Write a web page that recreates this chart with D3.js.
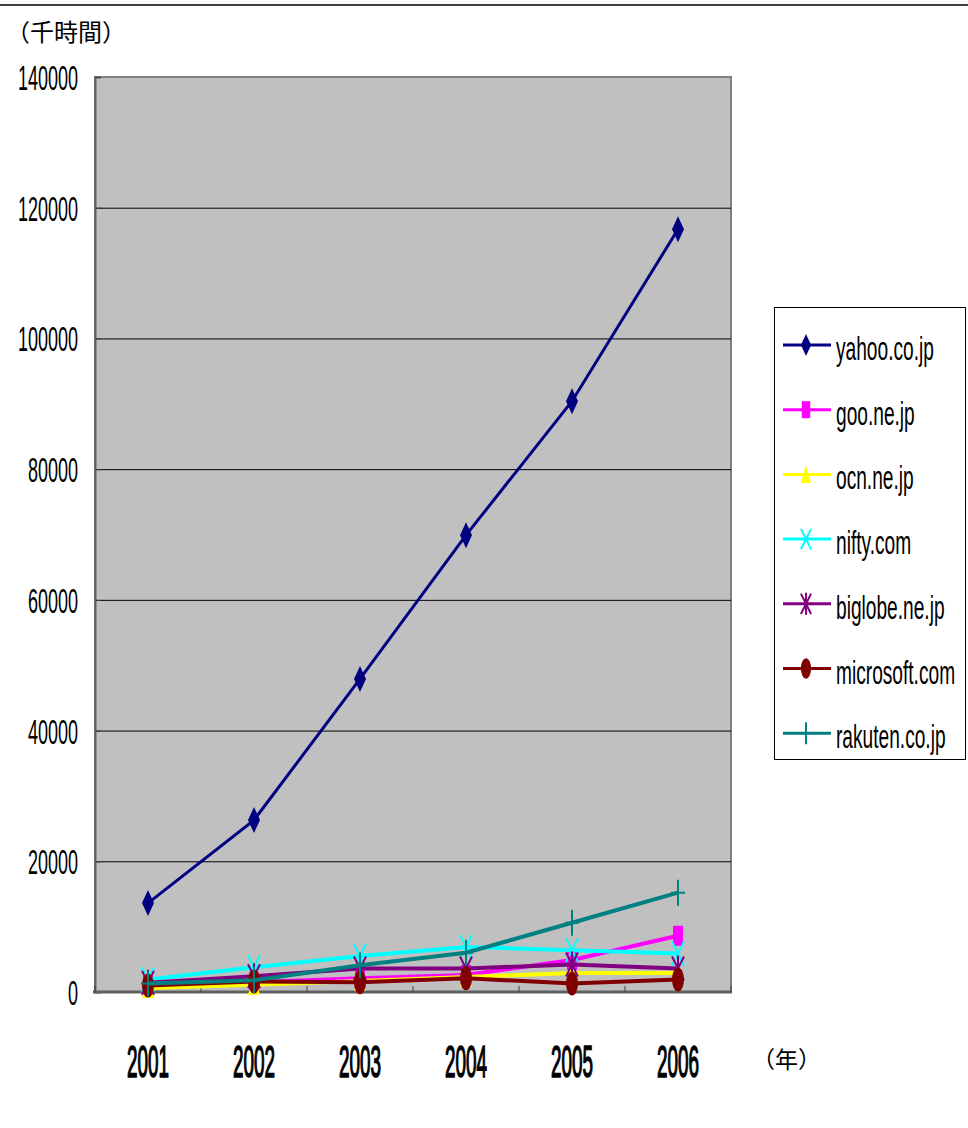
<!DOCTYPE html>
<html>
<head>
<meta charset="utf-8">
<script src="https://cdn.jsdelivr.net/npm/d3@7"></script>
<style>
  body { margin: 0; background: #fff; }
  svg { display: block; }
</style>
</head>
<body>
<svg id="chart" width="968" height="1128"></svg>
<script>
// years and series (thousand hours)
const years = ["2001", "2002", "2003", "2004", "2005", "2006"];
const yTicks = [0, 20000, 40000, 60000, 80000, 100000, 120000, 140000];
const seriesNames = ["yahoo.co.jp", "goo.ne.jp", "ocn.ne.jp", "nifty.com", "biglobe.ne.jp", "microsoft.com", "rakuten.co.jp"];
const seriesColors = ["#000080", "#ff00ff", "#ffff00", "#00ffff", "#800080", "#800000", "#008080"];
const seriesMarkers = ["diamond", "square", "triangle", "x", "star", "ellipse", "plus"];

const yahoo = [13600, 26300, 47900, 69900, 90400, 116700];
const goo = [1000, 1500, 2100, 2600, 4900, 8600];
const ocn = [600, 1100, 1700, 2300, 2900, 2900];
const nifty = [1900, 3800, 5500, 6900, 6400, 5900];
const biglobe = [1400, 2400, 3600, 3600, 4200, 3600];
const microsoft = [1000, 1600, 1500, 2100, 1300, 1900];
const rakuten = [1300, 1800, 4100, 6000, 10600, 15200];

const seriesValues = [yahoo, goo, ocn, nifty, biglobe, microsoft, rakuten];

const svg = d3.select("#chart");
const plot = {left: 95, right: 731, top: 77, bottom: 992};

const x = d3.scaleBand().domain(years).range([plot.left, plot.right]);
const y = d3.scaleLinear().domain([0, 140000]).range([plot.bottom, plot.top]);

// top rule of the page
svg.append("line")
    .attr("x1", 0).attr("x2", 968).attr("y1", 5).attr("y2", 5)
    .style("stroke", "#404040").style("stroke-width", 2);

// plot area
svg.append("rect")
    .attr("x", plot.left).attr("y", plot.top)
    .attr("width", plot.right - plot.left).attr("height", plot.bottom - plot.top)
    .style("fill", "#c0c0c0")
    .style("stroke", "#808080").style("stroke-width", 2);

// gridlines
svg.append("g")
    .selectAll("line")
    .data(yTicks.filter(d => d > 0 && d < 140000))
    .join("line")
    .attr("x1", plot.left).attr("x2", plot.right)
    .attr("y1", d => y(d) + 0.5).attr("y2", d => y(d) + 0.5)
    .style("stroke", "#000").style("stroke-width", 1);

// y axis (ticks inside)
const axisY = svg.append("g")
    .attr("transform", `translate(${plot.left}, 0)`)
    .call(d3.axisRight(y).tickValues(yTicks).tickSize(6).tickFormat(""));
axisY.select(".domain").style("stroke", "#606060").style("stroke-width", 2);
axisY.selectAll(".tick line").style("stroke", "#404040");

svg.append("g")
    .selectAll("text")
    .data(yTicks)
    .join("text")
    .attr("transform", d => `translate(78, ${y(d) + 13}) scale(0.5, 1)`)
    .attr("text-anchor", "end")
    .style("font-family", "Liberation Sans, Arial, sans-serif")
    .style("font-size", "36px")
    .text(d => d);

// x axis (ticks inside, on category boundaries)
const axisX = svg.append("g")
    .attr("transform", `translate(0, ${plot.bottom})`);
axisX.append("line")
    .attr("x1", plot.left - 2).attr("x2", plot.right + 1)
    .style("stroke", "#606060").style("stroke-width", 3);
axisX.selectAll("line.tick")
    .data(years.concat(["end"]))
    .join("line")
    .attr("class", "tick")
    .attr("x1", (d, i) => plot.left + i * x.step())
    .attr("x2", (d, i) => plot.left + i * x.step())
    .attr("y1", 0).attr("y2", -6)
    .style("stroke", "#404040");

svg.append("g")
    .selectAll("text")
    .data(years)
    .join("text")
    .attr("transform", d => `translate(${x(d) + x.bandwidth() / 2}, 1077) scale(0.42, 1)`)
    .attr("text-anchor", "middle")
    .style("font-family", "Liberation Sans, Arial, sans-serif")
    .style("font-size", "45px")
    .style("stroke", "#000")
    .style("stroke-width", 1.6)
    .text(d => d);

// unit labels
svg.append("text")
    .attr("x", 6).attr("y", 41)
    .style("font-family", "Noto Sans CJK JP, sans-serif")
    .style("font-size", "24px")
    .text("（千時間）");
svg.append("text")
    .attr("x", 752).attr("y", 1068)
    .style("font-family", "Noto Sans CJK JP, sans-serif")
    .style("font-size", "23px")
    .text("（年）");

// markers, drawn tall like the original
function drawMarker(g, type, color, cx, cy, k) {
    const w = 6 * k, h = 13 * k;
    if (type === "diamond") {
        g.append("path")
            .attr("d", `M${cx},${cy - h}L${cx + w},${cy}L${cx},${cy + h}L${cx - w},${cy}Z`)
            .style("fill", color);
    } else if (type === "square") {
        g.append("rect")
            .attr("x", cx - 5 * k).attr("y", cy - 10 * k)
            .attr("width", 10 * k).attr("height", 20 * k)
            .style("fill", color);
    } else if (type === "triangle") {
        g.append("path")
            .attr("d", `M${cx},${cy - 11 * k}L${cx + 6 * k},${cy + 10 * k}L${cx - 6 * k},${cy + 10 * k}Z`)
            .style("fill", color);
    } else if (type === "ellipse") {
        g.append("ellipse")
            .attr("cx", cx).attr("cy", cy).attr("rx", 6 * k).attr("ry", 12 * k)
            .style("fill", color);
    } else {
        let d = "";
        if (type === "x" || type === "star") {
            d += `M${cx - 6 * k},${cy - 12 * k}L${cx + 6 * k},${cy + 12 * k}`;
            d += `M${cx + 6 * k},${cy - 12 * k}L${cx - 6 * k},${cy + 12 * k}`;
        }
        if (type === "star" || type === "plus") {
            d += `M${cx},${cy - 13 * k}L${cx},${cy + 13 * k}`;
        }
        if (type === "plus") {
            d += `M${cx - 7 * k},${cy}L${cx + 7 * k},${cy}`;
        }
        g.append("path")
            .attr("d", d)
            .style("fill", "none")
            .style("stroke", color)
            .style("stroke-width", 2);
    }
}

const line = d3.line()
    .x((d, i) => x(years[i]) + x.bandwidth() / 2)
    .y(d => y(d));

seriesNames.forEach((name, s) => {
    const g = svg.append("g");
    g.append("path")
        .datum(seriesValues[s])
        .attr("d", line)
        .style("fill", "none")
        .style("stroke", seriesColors[s])
        .style("stroke-width", s === 0 ? 3 : 4);
    seriesValues[s].forEach((v, i) => {
        drawMarker(g, seriesMarkers[s], seriesColors[s], x(years[i]) + x.bandwidth() / 2, y(v), 1);
    });
});

// legend
const legend = svg.append("g");
legend.append("rect")
    .attr("x", 774.5).attr("y", 307.5)
    .attr("width", 191).attr("height", 452)
    .style("fill", "#fff").style("stroke", "#000").style("stroke-width", 1);

seriesNames.forEach((name, s) => {
    const cy = 345 + s * 64.7;
    const g = legend.append("g");
    g.append("line")
        .attr("x1", 783).attr("x2", 831).attr("y1", cy).attr("y2", cy)
        .style("stroke", seriesColors[s]).style("stroke-width", 3);
    drawMarker(g, seriesMarkers[s], seriesColors[s], 806, cy, 0.85);
    g.append("text")
        .attr("transform", `translate(836, ${cy + 15}) scale(0.58, 1)`)
        .style("font-family", "Liberation Sans, Arial, sans-serif")
        .style("font-size", "33px")
        .text(name);
});
</script>
</body>
</html>
